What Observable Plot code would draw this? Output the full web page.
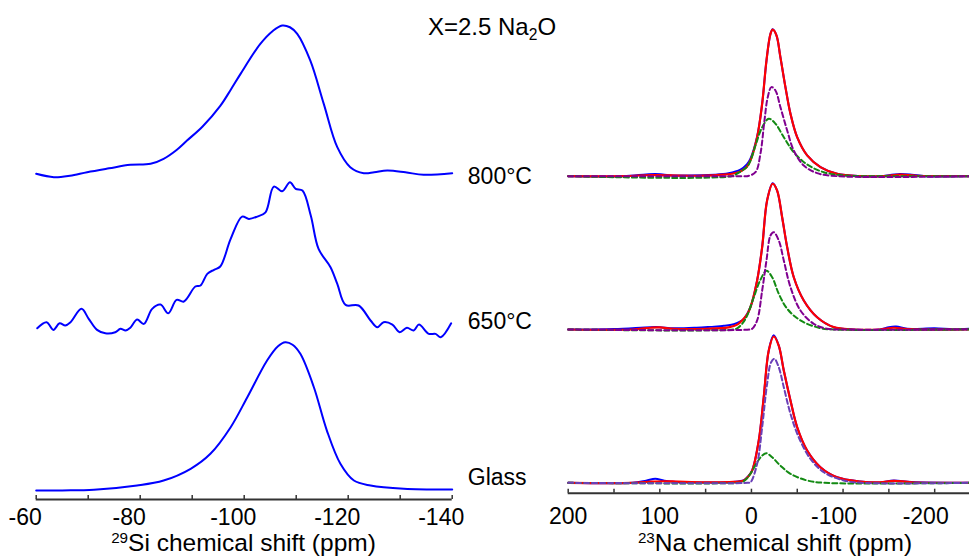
<!DOCTYPE html>
<html><head><meta charset="utf-8">
<script src="https://cdn.jsdelivr.net/npm/d3@7"></script>
<script src="https://cdn.jsdelivr.net/npm/@observablehq/plot@0.6"></script>
<style>
body{margin:0;background:#fff;font-family:"Liberation Sans",Arial,sans-serif;}
#wrap{position:relative;width:969px;height:556px;overflow:hidden;background:#fff;}
#left,#right{position:absolute;top:0;}
#left{left:0;}
#right{left:540px;}
.lbl{position:absolute;white-space:nowrap;line-height:1;color:#000;transform:translate(-50%,-50%);}
.lbl sup{font-size:0.62em;position:relative;top:-0.55em;vertical-align:baseline;line-height:0;}
.lbl sub{font-size:0.65em;position:relative;top:0.3em;vertical-align:baseline;line-height:0;}
</style></head>
<body>
<div id="wrap">
  <div id="left"></div>
  <div id="right"></div>
  <div class="lbl" style="left:492px;top:27px;font-size:24px;">X=2.5 Na<sub>2</sub>O</div>
  <div class="lbl" style="left:243.5px;top:543px;font-size:24.5px;"><sup>29</sup>Si chemical shift (ppm)</div>
  <div class="lbl" style="left:775px;top:543px;font-size:24.5px;"><sup>23</sup>Na chemical shift (ppm)</div>
</div>
<script>
// ---------- 29Si panel (ppm, intensity in % of peak) ----------
const siLabels = ["800°C", "650°C", "Glass"];
const siOffsets = [215, 110.2, 0];      // vertical stacking offsets (same units as intensity)
const siLabelY = [213, 114, 8];
const siMajorTicks = [-60, -80, -100, -120, -140];
const siMinorTicks = [-60, -70, -80, -90, -100, -110, -120, -130, -140];

const si800 = [[-60,-0.2],[-63.4,-2.5],[-66.5,-1.5],[-69.8,0.9],[-74,3.5],[-78.1,5.9],[-82,6.6],[-84.5,10],[-87,16],[-89,22.4],[-92,32],[-95.4,46],[-97.5,57.5],[-99.3,67.8],[-103.1,88.2],[-105.5,97],[-107.3,100.7],[-108.8,99.5],[-110.2,95],[-112.7,76.9],[-115.3,47.4],[-117.9,17.9],[-120.4,4.3],[-123,0.2],[-125,0.8],[-127.5,2],[-131,0.8],[-134.5,-0.9],[-140,0.2]];

const si650 = [[-60.2,-0.5],[-62,3.6],[-63.3,-1.6],[-64.5,2.9],[-65.6,1.4],[-66.6,3.6],[-68.7,12.7],[-70.1,5.9],[-71.7,-1.6],[-73.3,-3.9],[-75.2,-3.2],[-76.2,-0.9],[-77.2,-2.0],[-78.1,-0.2],[-79.4,5.4],[-80.7,2.5],[-82.3,12.7],[-83.9,15.6],[-85.4,9.7],[-87,18.8],[-88.4,17.7],[-90.6,27.9],[-91.6,28.6],[-92.9,36.5],[-94.2,39.3],[-95.4,41.5],[-97.4,60.3],[-99.6,75.5],[-100.9,73.9],[-102.5,75.5],[-104.1,78.4],[-105.7,95.9],[-107.3,92.7],[-108.8,98.8],[-109.9,94.4],[-111.2,93.2],[-112.8,76.2],[-114.3,53.5],[-116.6,41.0],[-117.9,29.7],[-119.5,15.4],[-122,15.0],[-124.3,4.8],[-125.6,0.2],[-126.8,3.6],[-128.5,2.0],[-129.9,-3.2],[-131.3,-0.2],[-132.6,-2.0],[-133.6,2.0],[-135.5,-4.3],[-136.8,-4.3],[-137.8,-6.6],[-139.8,2.9]];

const siGlass = [[-60,-0.7],[-65,-0.6],[-71.1,-0.2],[-79.4,2.7],[-84.5,6.1],[-89.7,14.1],[-93.5,24.3],[-97.4,42.4],[-100.6,62.8],[-104.4,87.8],[-106.5,97.5],[-107.9,100.2],[-109.3,98.5],[-110.8,92.3],[-113.4,69.6],[-115.9,40.1],[-118.5,17.5],[-121.1,6.1],[-124.3,2.7],[-130.7,0.5],[-140,0]];

// ---------- 23Na panel ----------
const naOffsets = [210, 105, 0];
const naPosTicks = [200, 100, 0];
const naNegTicks = [-100, -200];
const naMinorTicks = [200, 150, 100, 50, 0, -50, -100, -150, -200];

const naExp800 = [[200,0],[140,0],[115,1.2],[105,1.5],[95,1],[80,0.5],[40,1],[25,2],[12,4.5],[5,8],[1.1,12],[-6.2,27],[-11.7,49.6],[-16.4,79],[-20.8,97.5],[-23.2,100.6],[-27.3,96.4],[-31.6,81.5],[-37.1,61],[-42.6,42.7],[-49.9,26.7],[-60.8,14.2],[-75.3,6.2],[-93.5,1.6],[-118.9,0],[-140,0],[-160,1.4],[-175,1],[-190,0],[-238,0]];
const naFit800 = [[200,0],[140,0],[110,0.8],[95,0.6],[60,0.3],[30,1],[15,2.5],[10.2,3.9],[5,6.5],[1.1,10.8],[-6.2,26.7],[-11.7,49.6],[-16.4,79.2],[-20.8,97.5],[-23.2,100.3],[-27.3,96.4],[-31.6,81.5],[-37.1,61],[-42.6,42.7],[-49.9,26.7],[-60.8,14.2],[-75.3,6.2],[-93.5,1.6],[-118.9,0],[-145,0],[-162.6,1.0],[-180,0.3],[-238,0]];
const naA800 = [[200,0],[10,0],[4.7,0],[-4.4,2.7],[-9.8,15.3],[-14.2,38.1],[-17.8,54.1],[-21.8,61],[-26.2,58.7],[-31.6,47.3],[-39,31.3],[-46.2,17.6],[-57.1,7.3],[-71.7,2.1],[-93.5,0],[-238,0]];
const naB800 = [[200,0],[22,0],[15,2],[10,4],[5,6.3],[1.1,10.5],[-4.4,21],[-11.7,33.5],[-18.9,39.3],[-26.2,35.9],[-35.3,26.7],[-46.2,16.4],[-60.8,8],[-78.9,2.7],[-100.7,0.5],[-120,0],[-238,0]];

const naExp650 = [[200,0],[150,0.3],[110,1.6],[100,1.6],[85,0.8],[60,1.2],[44.7,1.8],[30,2.5],[19.3,3.6],[12,5.5],[8,7.5],[1.1,15.3],[-6.2,33.6],[-11.7,56.4],[-17.1,88.4],[-23.2,100.2],[-28,95.2],[-33.5,76.9],[-39,56.4],[-46.2,35.8],[-57.1,19.9],[-71.7,8.4],[-89.8,1.6],[-111.6,0],[-140,0],[-150,1.6],[-158,2],[-170,0.5],[-200,0.8],[-220,0.2],[-238,0.5]];
const naFit650 = [[200,0],[130,0],[110,1.2],[100,1.4],[85,0.5],[50,0.5],[25,1.5],[15,3.5],[10.2,6.2],[5,10],[1.1,15.3],[-6.2,33.6],[-11.7,56.4],[-17.1,88.4],[-23.2,99.8],[-28,95.2],[-33.5,76.9],[-39,56.4],[-46.2,35.8],[-57.1,19.9],[-71.7,8.4],[-89.8,1.6],[-111.6,0],[-140,0],[-155.3,1.2],[-170,0.3],[-238,0]];
const naA650 = [[200,0],[2,0],[-0.8,0.5],[-6.2,6.2],[-11.7,26.7],[-16.4,47.3],[-20.8,64.4],[-24.3,66.6],[-29.8,61],[-35.3,47.3],[-42.6,29],[-53.5,13],[-68,3.9],[-82.6,0.5],[-100,0],[-238,0]];
const naB650 = [[200,0],[20,0],[15.6,0.8],[10,4],[4.7,9.5],[-2.5,22],[-9.8,34],[-16.4,40.2],[-22.6,35.8],[-29.8,24.5],[-39,14.2],[-53.5,6.2],[-75.3,0.9],[-90,0],[-238,0]];

const naExpGlass = [[200,0],[130,0],[115,1.5],[105,2.8],[95,1.5],[80,0.6],[50,0.3],[20,0.6],[8.4,1.8],[4,4.2],[-0.8,8.6],[-8,29],[-13.4,58.6],[-18.9,90.6],[-24.3,101],[-29.8,94],[-35.3,76.9],[-42.6,56.4],[-49.9,38.1],[-60.8,22.1],[-75.3,10.7],[-93.5,3.8],[-118.9,0.9],[-140,0.3],[-155.3,1.6],[-175,0.5],[-238,0]];
const naFitGlass = [[200,0],[130,0],[110,0.8],[95,1.1],[80,0.8],[50,0.3],[20,0.6],[8.4,1.6],[4,4],[-0.8,8.4],[-8,29],[-13.4,58.6],[-18.9,90.6],[-24.3,100.2],[-29.8,94],[-35.3,76.9],[-42.6,56.4],[-49.9,38.1],[-60.8,22.1],[-75.3,10.7],[-93.5,3.8],[-118.9,0.9],[-140,0.3],[-155.3,1.4],[-175,0.4],[-238,0]];
const naAGlass = [[200,0],[4,0],[1.1,0.3],[-6.2,13],[-11.7,38.1],[-17.1,67.8],[-21.5,82.6],[-25.1,84.9],[-29.8,79.2],[-35.3,65.5],[-42.6,47.3],[-51.6,31.2],[-64.4,16.4],[-78.9,7.3],[-100.7,1.6],[-120,0],[-238,0]];
const naBGlass = [[200,0],[12,0],[10.2,0.3],[5,3],[1.1,6.2],[-6.2,14.1],[-11.7,18.7],[-16.4,20.3],[-22.6,17.5],[-31.6,11.8],[-42.6,6.2],[-60.8,1.6],[-80,0],[-238,0]];

// ---------- build ----------
const rows = (pts, off) => pts.map(([ppm, v]) => ({ppm, v: v + off}));
const baseStyle = {background: "transparent", overflow: "visible", fontFamily: "'Liberation Sans', Arial, sans-serif", fontSize: "23px", color: "#000"};
const fmt = d => String(d);
const BLUE = "#0000ff", RED = "#ff0000", GREEN = "#138a13";

const siSeries = [si800, si650, siGlass];
const siDomainY = [-6.8, 332.7];
const leftPlot = Plot.plot({
  width: 560, height: 556,
  marginLeft: 35.7, marginRight: 108.3, marginTop: 0, marginBottom: 57,
  style: baseStyle,
  x: {domain: [-60, -140]},
  y: {domain: siDomainY, axis: null},
  marks: [
    ...siSeries.map((s, i) => Plot.line(rows(s, siOffsets[i]), {x: "ppm", y: "v", stroke: BLUE, strokeWidth: 2, curve: "catmull-rom"})),
    Plot.ruleY([siDomainY[0]], {stroke: "#333", strokeWidth: 2}),
    Plot.axisX(siMinorTicks, {tickSize: 4, dy: -4, tickFormat: () => "", stroke: "#333", strokeWidth: 1.5, label: null}),
    Plot.axisX(siMajorTicks, {tickSize: 0, tickPadding: 9, dx: -11, fontSize: 23, tickFormat: fmt, label: null}),
    Plot.text(siLabels, {x: -143, y: (d, i) => siLabelY[i], text: d => d, textAnchor: "start", lineAnchor: "middle", fontSize: 23, fill: "#000"})
  ]
});
document.getElementById("left").appendChild(leftPlot);

const naSeries = [
  [naExp800, naFit800, naA800, naB800, "#800090"],
  [naExp650, naFit650, naA650, naB650, "#800090"],
  [naExpGlass, naFitGlass, naAGlass, naBGlass, "#6a40b8"]
];
const naDomainY = [-7.1, 330.3];
const naMarks = [];
naSeries.forEach(([exp, fit, a, b, purple], i) => {
  const off = naOffsets[i];
  naMarks.push(Plot.line(rows(exp, off), {x: "ppm", y: "v", stroke: BLUE, strokeWidth: 2, curve: "catmull-rom"}));
  naMarks.push(Plot.line(rows(fit, off), {x: "ppm", y: "v", stroke: RED, strokeWidth: 2.2, curve: "catmull-rom"}));
  naMarks.push(Plot.line(rows(b, off), {x: "ppm", y: "v", stroke: GREEN, strokeWidth: 2, strokeDasharray: "5,3", curve: "catmull-rom"}));
  naMarks.push(Plot.line(rows(a, off), {x: "ppm", y: "v", stroke: purple, strokeWidth: 2, strokeDasharray: "5,3", curve: "catmull-rom"}));
});
const rightPlot = Plot.plot({
  width: 429, height: 556,
  marginLeft: 27.7, marginRight: 0, marginTop: 0, marginBottom: 63.3,
  style: baseStyle,
  x: {domain: [200, -238]},
  y: {domain: naDomainY, axis: null},
  marks: [
    ...naMarks,
    Plot.ruleY([naDomainY[0]], {stroke: "#333", strokeWidth: 2}),
    Plot.axisX(naMinorTicks, {tickSize: 4, dy: -4, tickFormat: () => "", stroke: "#333", strokeWidth: 1.5, label: null}),
    Plot.axisX(naPosTicks, {tickSize: 0, tickPadding: 14, fontSize: 23, tickFormat: fmt, label: null}),
    Plot.axisX(naNegTicks, {tickSize: 0, tickPadding: 14, dx: -9, fontSize: 23, tickFormat: fmt, label: null})
  ]
});
document.getElementById("right").appendChild(rightPlot);
</script>
</body></html>
